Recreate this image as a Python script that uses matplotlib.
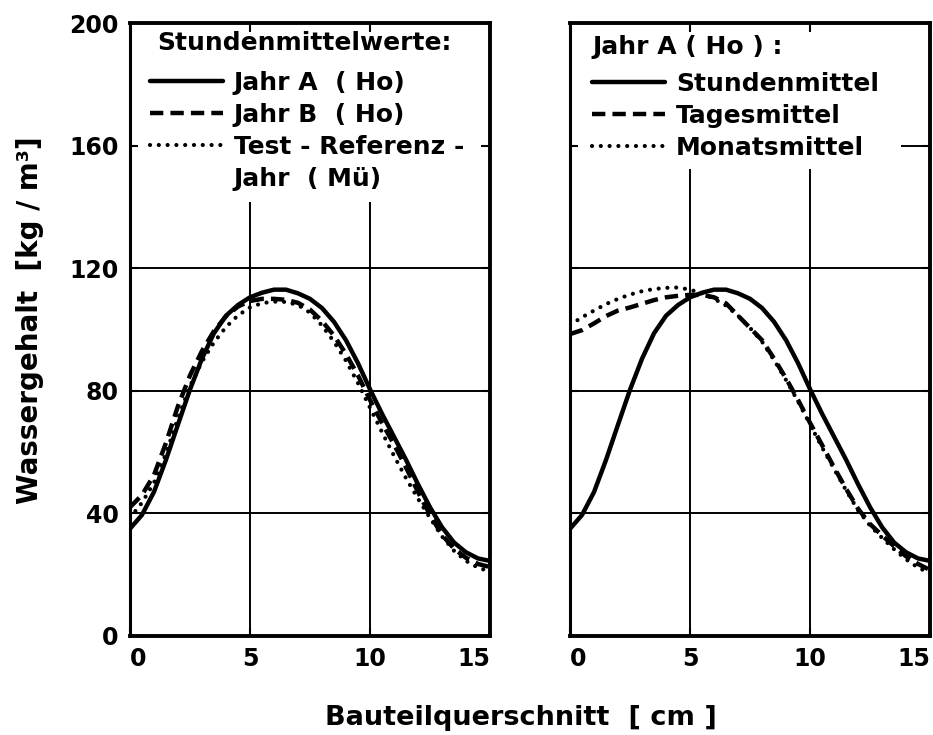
import matplotlib
matplotlib.use("Agg")
import matplotlib.pyplot as plt
from matplotlib.lines import Line2D
from matplotlib.patches import Rectangle

# Bauteilquerschnitt [cm]
x_cm = [0, 0.5, 1, 1.5, 2, 2.5, 3, 3.5, 4, 4.5, 5, 5.5, 6, 6.5, 7, 7.5,
        8, 8.5, 9, 9.5, 10, 10.5, 11, 11.5, 12, 12.5, 13, 13.5, 14, 14.5, 15]

# Wassergehalt [kg/m3] - Stundenmittelwerte
jahr_a = [35, 39.5, 47, 57.5, 69, 80.4, 90.5, 98.8, 104.5, 108, 110.5, 112, 113, 113,
          111.8, 110, 107, 102.5, 96.5, 89, 80.5, 72.5, 65, 57.5, 49.5, 42, 35.5,
          30.5, 27.3, 25.3, 24.5]
jahr_b = [42, 46, 52.5, 63, 75, 85, 93, 99.5, 104.3, 107.5, 109.3, 110, 110, 109.7,
          108.7, 106.5, 102.8, 98, 92, 85, 77, 69.5, 62.5, 55, 47, 39.5, 33, 28.5,
          25.5, 23.5, 22.5]
trj_mue = [38.5, 43.5, 50, 59.5, 71, 81.5, 89.5, 95.8, 100.8, 104.6, 107.2, 108.6,
           109.1, 109, 108, 105.5, 101.3, 96, 89.8, 82.5, 74.5, 66.5, 58.8, 51.5,
           44.8, 38.5, 32.5, 27.8, 24.5, 22.3, 21]

# Jahr A (Ho): Tages- und Monatsmittel
tagesmittel = [98.5, 99.8, 102, 104.4, 106.2, 107.2, 108.4, 109.6, 110.5, 111, 111.3,
               111.3, 110.5, 108.5, 104.5, 100.5, 96.5, 90.5, 84, 77, 69.5, 62.3, 55,
               48, 41.5, 36.5, 32.8, 29.3, 26, 23.5, 21.5]
monatsmittel = [101.5, 104, 106.2, 108.3, 110, 111.4, 112.5, 113.2, 113.6, 113.7, 113,
                111.8, 110, 107.8, 104.5, 100.5, 96, 90, 83.5, 76.5, 69, 61.5, 54.5,
                47.5, 41, 36, 32, 28.3, 25, 22.3, 20.5]

x_ticks = [0, 5, 10, 15]
y_ticks = [0, 40, 80, 120, 160, 200]
x_grid = [5, 10]
y_grid = [40, 80, 120, 160]

FONT = "DejaVu Sans"
plt.rcParams["font.family"] = [FONT]
plt.rcParams["font.weight"] = "bold"

LW = 3.2
SOLID = dict(color="black", lw=LW, linestyle="-", solid_capstyle="round",
             solid_joinstyle="round")
DASHED = dict(color="black", lw=LW, linestyle=(0, (3.0, 1.6)), dash_capstyle="butt",
              dash_joinstyle="round")
DOTTED = dict(color="black", lw=3.0, linestyle=(0, (0.01, 2.1)), dash_capstyle="round")

fig = plt.figure(figsize=(9.33, 7.35), dpi=100)
ax1 = fig.add_axes([0.1393, 0.1347, 0.3859, 0.834])
ax2 = fig.add_axes([0.6110, 0.1347, 0.3859, 0.834])


def frame(ax, box, show_ylabels):
    ax.set_xlim(0, 15)
    ax.set_ylim(0, 200)
    for g in x_grid:
        ax.axvline(g, color="black", lw=1.4, zorder=1)
    for g in y_grid:
        ax.axhline(g, color="black", lw=1.4, zorder=1)
    # white panel behind the legend text interrupts the grid
    ax.add_patch(Rectangle((box[0], box[1]), box[2] - box[0], box[3] - box[1],
                           transform=ax.transAxes, facecolor="white",
                           edgecolor="none", zorder=1.2))
    ax.set_axisbelow(False)
    ax.set_xticks(x_ticks)
    ax.set_yticks(y_ticks)
    ax.tick_params(direction="in", length=6, width=1.5, top=True, right=True,
                   labelsize=17, pad=8)
    if not show_ylabels:
        ax.tick_params(labelleft=False)
    xl = ax.get_xticklabels()
    xl[0].set_horizontalalignment("left")
    xl[-1].set_horizontalalignment("right")
    for lab in xl + ax.get_yticklabels():
        lab.set_fontweight("bold")
    for s in ax.spines.values():
        s.set_linewidth(2.8)
    ax.spines["left"].set_linewidth(2.2)


frame(ax1, (0.015, 0.708, 0.975, 0.985), True)
frame(ax2, (0.02, 0.762, 0.918, 0.985), False)

l_a, = ax1.plot(x_cm, jahr_a, zorder=3, **SOLID)
l_b, = ax1.plot(x_cm, jahr_b, zorder=2, **DASHED)
l_t, = ax1.plot(x_cm, trj_mue, zorder=2, **DOTTED)

r_s, = ax2.plot(x_cm, jahr_a, zorder=3, **SOLID)
r_t, = ax2.plot(x_cm, tagesmittel, zorder=2, **DASHED)
r_m, = ax2.plot(x_cm, monatsmittel, zorder=2, **DOTTED)

blank = Line2D([], [], linestyle="none")
leg_kw = dict(loc="upper left", frameon=False, fontsize=18,
              handlelength=2.9, handletextpad=0.45, labelspacing=0.32,
              borderaxespad=0.0, borderpad=0.0)

title_kw = dict(fontsize=18, fontweight="bold", ha="left", va="center", zorder=5)
ax1.text(0.075, 0.967, "Stundenmittelwerte:", transform=ax1.transAxes, **title_kw)
ax2.text(0.061, 0.961, "Jahr A ( Ho ) :", transform=ax2.transAxes, **title_kw)

leg1 = ax1.legend([l_a, l_b, l_t, blank],
                  ["Jahr A  ( Ho)", "Jahr B  ( Ho)", "Test - Referenz -", "Jahr  ( Mü)"],
                  bbox_to_anchor=(0.056, 0.922), **leg_kw)
leg2 = ax2.legend([r_s, r_t, r_m], ["Stundenmittel", "Tagesmittel", "Monatsmittel"],
                  bbox_to_anchor=(0.061, 0.920), **leg_kw)
for leg in (leg1, leg2):
    for t in leg.get_texts():
        t.set_fontweight("bold")

fig.text(30 / 933, 1 - 320 / 735, "Wassergehalt  [kg / m³]", rotation=90,
         ha="center", va="center", fontsize=20, fontweight="bold")
fig.text(521 / 933, 1 - 718 / 735, "Bauteilquerschnitt  [ cm ]", ha="center",
         va="center", fontsize=19.5, fontweight="bold")

fig.savefig("out.png", dpi=100)
